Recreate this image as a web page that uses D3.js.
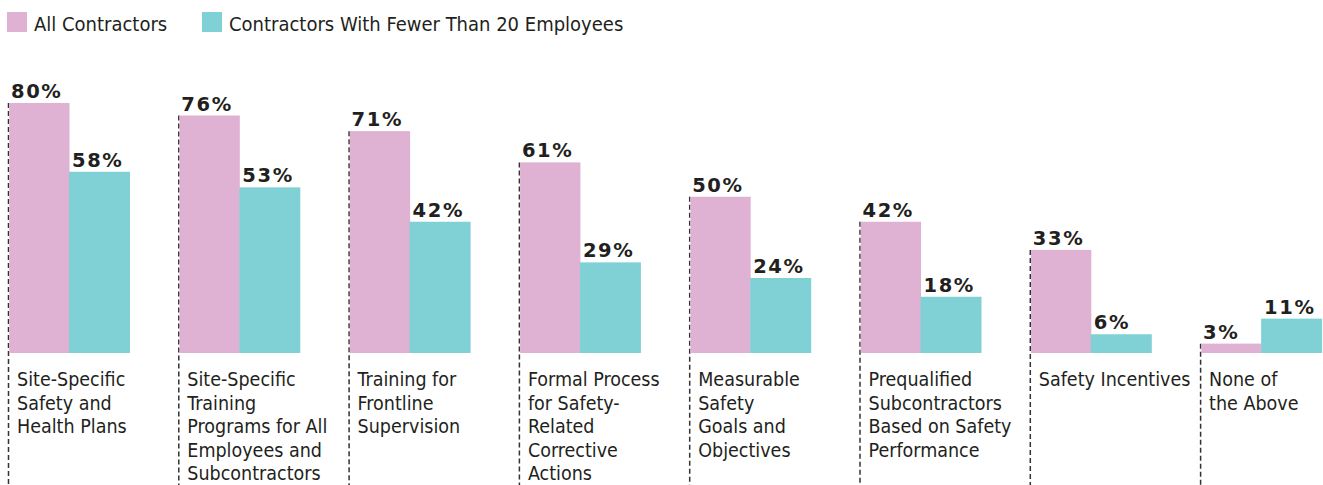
<!DOCTYPE html>
<html>
<head>
<meta charset="utf-8">
<script src="https://cdn.jsdelivr.net/npm/d3@7"></script>
<style>
  body { margin: 0; background: #fff; }
  svg { display: block; }
  .cond { font-family: "DejaVu Sans Condensed", "Liberation Sans Narrow", sans-serif; fill: #231f20; }
  .val { font-family: "DejaVu Sans", sans-serif; font-weight: bold; fill: #231f20; }
</style>
</head>
<body>
<div class="chart"></div>
<script>
var pink = '#dfb1d3';
var teal = '#80d1d5';

var width = 1323;
var height = 485;

// data
var categories = [
  ['Site-Specific', 'Safety and', 'Health Plans'],
  ['Site-Specific', 'Training', 'Programs for All', 'Employees and', 'Subcontractors'],
  ['Training for', 'Frontline', 'Supervision'],
  ['Formal Process', 'for Safety-', 'Related', 'Corrective', 'Actions'],
  ['Measurable', 'Safety', 'Goals and', 'Objectives'],
  ['Prequalified', 'Subcontractors', 'Based on Safety', 'Performance'],
  ['Safety Incentives'],
  ['None of', 'the Above']
];
var allContractors = [80, 76, 71, 61, 50, 42, 33, 3];
var smallContractors = [58, 53, 42, 29, 24, 18, 6, 11];
var seriesNames = ['All Contractors', 'Contractors With Fewer Than 20 Employees'];
var seriesColors = [pink, teal];

var svg = d3.select('.chart')
  .append('svg')
  .attr('width', width)
  .attr('height', height);

/// Scales
var x = d3.scaleBand()
  .domain(d3.range(categories.length))
  .range([8, 8 + 170.3 * categories.length])
  .paddingInner(0)
  .paddingOuter(0);

var barW = 61;

var y = d3.scaleLinear()
  .domain([0, 80])
  .range([353, 103]);

/// Legend
var legend = svg.append('g');
var legendX = [7, 202];
seriesNames.forEach(function(name, i) {
  legend.append('rect')
    .attr('x', legendX[i])
    .attr('y', 12)
    .attr('width', 20)
    .attr('height', 20)
    .attr('fill', seriesColors[i]);
  legend.append('text')
    .attr('class', 'cond')
    .attr('x', legendX[i] + 27)
    .attr('y', 31)
    .attr('font-size', '20px')
    .text(name);
});

/// Groups
var groups = svg.selectAll('.group')
  .data(categories)
  .enter().append('g')
  .attr('class', 'group')
  .attr('transform', function(d, i) { return 'translate(' + x(i) + ',0)'; });

// dashed guide from pink bar top to the bottom
groups.append('line')
  .attr('x1', 0.5)
  .attr('x2', 0.5)
  .attr('y1', function(d, i) { return y(allContractors[i]); })
  .attr('y2', height)
  .attr('stroke', '#333')
  .attr('stroke-width', 1.5)
  .attr('stroke-dasharray', '5,3');

// pink bars
groups.append('rect')
  .attr('x', 1.2)
  .attr('y', function(d, i) { return y(allContractors[i]); })
  .attr('width', barW - 0.7)
  .attr('height', function(d, i) { return y(0) - y(allContractors[i]); })
  .attr('fill', pink);

// teal bars
groups.append('rect')
  .attr('x', barW)
  .attr('y', function(d, i) { return y(smallContractors[i]); })
  .attr('width', barW)
  .attr('height', function(d, i) { return y(0) - y(smallContractors[i]); })
  .attr('fill', teal);

// value labels
groups.append('text')
  .attr('class', 'val')
  .attr('x', 3)
  .attr('y', function(d, i) { return y(allContractors[i]) - 5; })
  .attr('font-size', '19.5px')
  .attr('letter-spacing', '1.6px')
  .text(function(d, i) { return allContractors[i] + '%'; });

groups.append('text')
  .attr('class', 'val')
  .attr('x', barW + 3)
  .attr('y', function(d, i) { return y(smallContractors[i]) - 5; })
  .attr('font-size', '19.5px')
  .attr('letter-spacing', '1.6px')
  .text(function(d, i) { return smallContractors[i] + '%'; });

// category labels
var labels = groups.append('text')
  .attr('class', 'cond')
  .attr('font-size', '19.5px');

labels.selectAll('tspan')
  .data(function(d) { return d; })
  .enter().append('tspan')
  .attr('x', 9)
  .attr('y', function(d, j) { return 386 + j * 23.6; })
  .text(function(d) { return d; });
</script>
</body>
</html>
